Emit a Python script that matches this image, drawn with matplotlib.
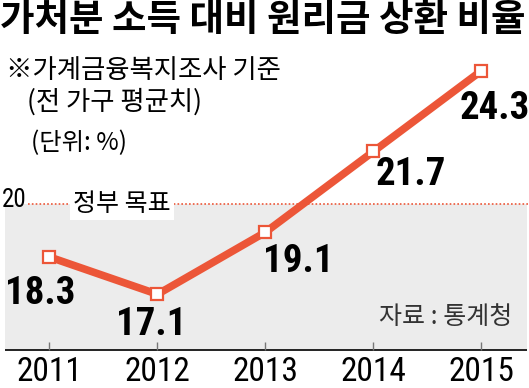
import matplotlib
matplotlib.use("Agg")
from matplotlib import pyplot as plt

# data
years = [2011, 2012, 2013, 2014, 2015]
ratio = [18.3, 17.1, 19.1, 21.7, 24.3]
year_labels = ["2011", "2012", "2013", "2014", "2015"]
target = 20

title = "가처분 소득 대비 원리금 상환 비율"
note1 = "※가계금융복지조사 기준"
note2 = "(전 가구 평균치)"
unit = "(단위: %)"
target_label = "정부 목표"
source = "자료 : 통계청"

W, H = 529, 388
LINE = "#EC5638"
KR = ["Noto Sans CJK KR", "DejaVu Sans"]
NUM = ["Roboto Condensed", "DejaVu Sans"]

fig = plt.figure(figsize=(W / 100, H / 100), dpi=100)
ax = fig.add_axes([0, 0, 1, 1])
x0, x1 = 2010.542, 2015.44
ax.set_xlim(x0, x1)
ax.set_ylim(14.081, 26.577)
ax.axis("off")

base = 15.305

def fx(px):
    return px / W

def fy(py):
    return 1 - py / H

# gray panel under the target line
ax.fill_between([x0 + 5 / 108, x0 + 527 / 108], base, target,
                color="#ECECEC", lw=0, zorder=0)
ax.plot([x0 + 5 / 108, x0 + 527 / 108], [base, base],
        color="#222222", lw=1.4, zorder=1, solid_capstyle="butt")
ax.vlines(years, base, base + 8 / 31.05, color="#777777", lw=1.0, zorder=1)

# target line
ax.plot([x0 + 28 / 108, x1], [target, target], color=LINE,
        lw=1.2, ls=(0, (1, 1.3)), zorder=1)
ax.text(x0 + 122 / 108, target, target_label, family=KR, fontsize=18,
        ha="center", va="center", zorder=2,
        bbox=dict(boxstyle="square,pad=0.12", fc="white", ec="none"))
ax.text(fx(2), fy(200), str(target), transform=ax.transAxes, family=NUM,
        fontsize=18, ha="left", va="center")

# main line
ax.plot(years, ratio, color=LINE, lw=5.5, zorder=3, solid_joinstyle="miter")
ax.plot(years, ratio, ls="none", marker="s", ms=8, mfc="white", mec=LINE,
        mew=1.6, zorder=4)

offsets = [(-9, -36), (-6, -30), (33, -29), (37, -23), (13, -38)]
for x, v, off in zip(years, ratio, offsets):
    ax.annotate(f"{v:.1f}", (x, v), xytext=off, textcoords="offset pixels",
                family=NUM, fontsize=28, fontweight="bold", ha="center",
                va="center", zorder=5)

for x, lab in zip(years, year_labels):
    ax.text(x, 14.081 + 16 / 31.05, lab, family=NUM, fontsize=24,
            ha="center", va="center")

# texts
fig.text(fx(0), fy(20), title, family=KR, fontsize=27, fontweight="black",
         ha="left", va="center")
fig.text(fx(6), fy(71), note1, family=KR, fontsize=19, ha="left", va="center")
fig.text(fx(27), fy(102), note2, family=KR, fontsize=19, ha="left", va="center")
fig.text(fx(31), fy(143), unit, family=KR, fontsize=17.5, ha="left", va="center")
fig.text(fx(512), fy(317), source, family=KR, fontsize=18, ha="right",
         va="center", color="#333333")

fig.savefig("out.png", dpi=100)
